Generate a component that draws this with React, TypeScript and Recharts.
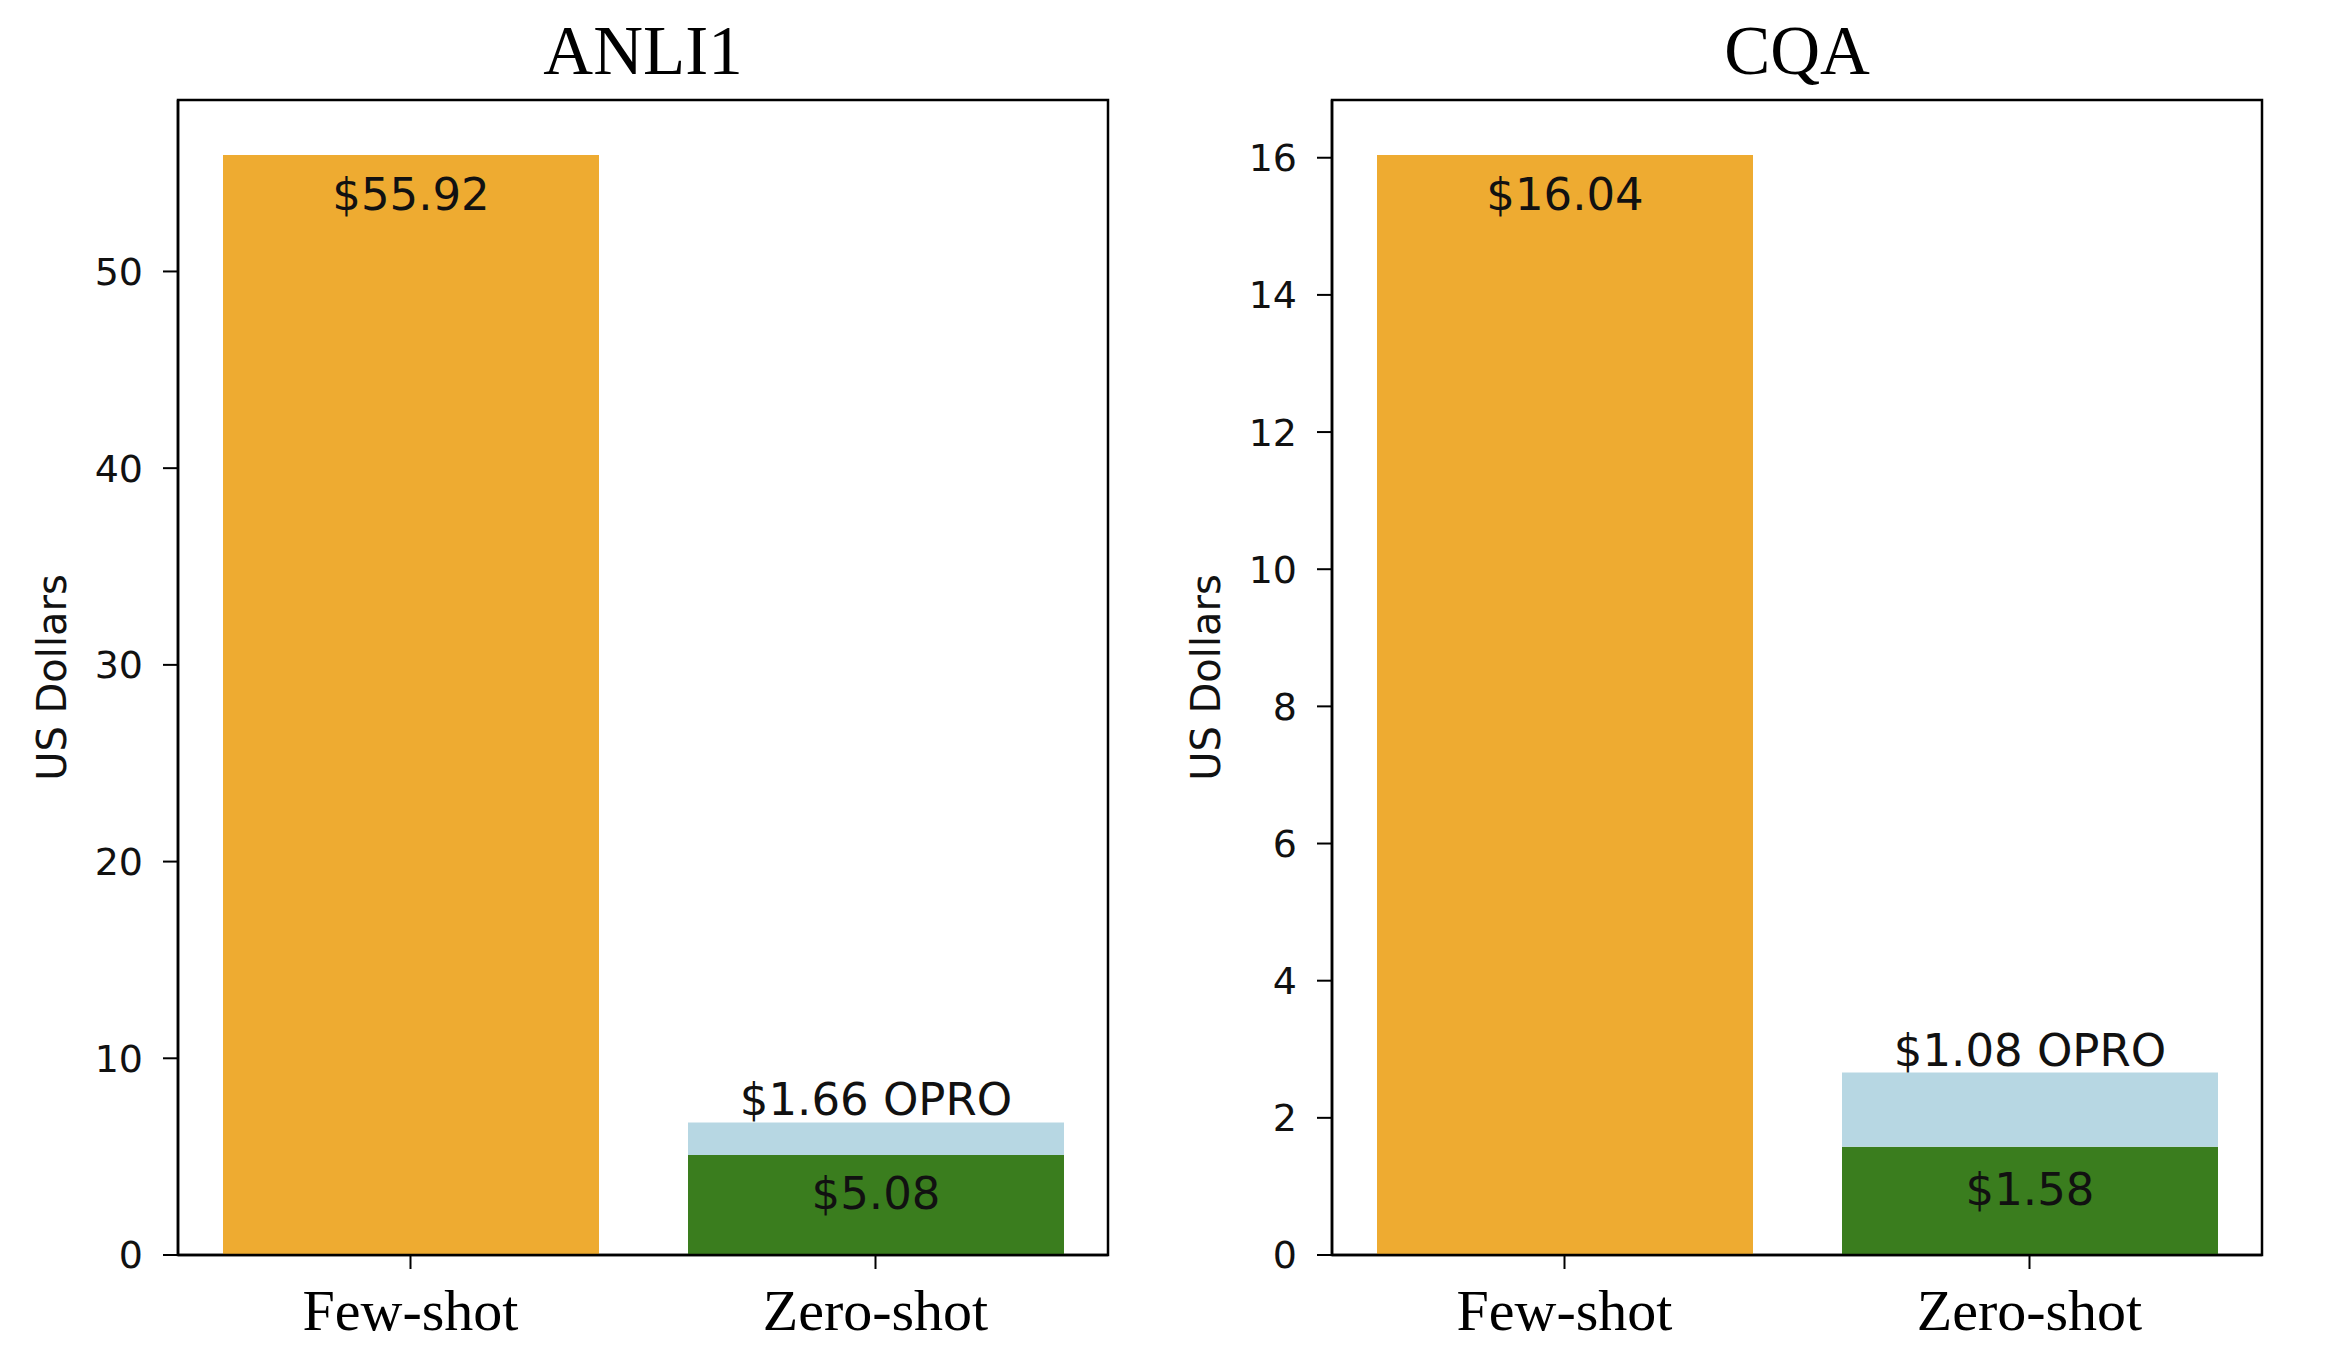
import React from "react";
import { BarChart, Bar, XAxis, YAxis, LabelList, ReferenceArea } from "recharts";

// dollar cost per dataset
const datasets = ["ANLI1", "CQA"];
const categories = ["Few-shot", "Zero-shot"];
const fewShotCost = [55.92, 16.04];
const zeroShotCost = [5.08, 1.58];
const oproCost = [1.66, 1.08];
const yTicks = [
  [0, 10, 20, 30, 40, 50],
  [0, 2, 4, 6, 8, 10, 12, 14, 16],
];

const ORANGE = "#eeab31";
const GREEN = "#3a7d1e";
const LIGHTBLUE = "#b7d7e3";
const SANS = "'DejaVu Sans', sans-serif";
const SERIF = "'Liberation Serif', 'Times New Roman', serif";
const frame = { stroke: "#000", strokeWidth: 2.5 };

function XTick({ x, y, payload }: any) {
  return (
    <text x={x} y={y + 59} textAnchor="middle" fontSize={58} fontFamily={SERIF} fill="#000">
      {payload.value}
    </text>
  );
}

function YTitle({ viewBox }: any) {
  const cx = viewBox.x + viewBox.width - 126;
  const cy = viewBox.y + viewBox.height / 2;
  return (
    <text
      x={cx}
      y={cy}
      transform={`rotate(-90 ${cx} ${cy})`}
      textAnchor="middle"
      dominantBaseline="central"
      fontSize={40}
      fontFamily={SANS}
      fill="#111"
    >
      US Dollars
    </text>
  );
}

function FewLabel({ x, y, width, value }: any) {
  if (!value) return null;
  return (
    <text x={x + width / 2} y={y + 55} textAnchor="middle" fontSize={45} fontFamily={SANS} fill="#111">
      {"$" + value.toFixed(2)}
    </text>
  );
}

function ZeroLabel({ x, y, width, height, value }: any) {
  if (!value) return null;
  return (
    <text x={x + width / 2} y={y + height / 2 + 4} textAnchor="middle" fontSize={45} fontFamily={SANS} fill="#111">
      {"$" + value.toFixed(2)}
    </text>
  );
}

function OproLabel({ x, y, width, value }: any) {
  if (!value) return null;
  return (
    <text x={x + width / 2} y={y - 7} textAnchor="middle" fontSize={45} fontFamily={SANS} fill="#111">
      {"$" + value.toFixed(2) + " OPRO"}
    </text>
  );
}

function Panel({ i, left, axisWidth }: { i: number; left: number; axisWidth: number }) {
  const rows = [
    { name: categories[0], few: fewShotCost[i], zero: 0, opro: 0 },
    { name: categories[1], few: 0, zero: zeroShotCost[i], opro: oproCost[i] },
  ];
  // matplotlib's default 5% top margin
  const yMax = Math.max(fewShotCost[i], zeroShotCost[i] + oproCost[i]) * 1.05;
  const plotWidth = 930;

  return (
    <div style={{ position: "absolute", left, top: 0, width: 1169, height: 1368 }}>
      <div
        style={{
          position: "absolute",
          left: axisWidth,
          width: plotWidth,
          top: 17,
          textAlign: "center",
          fontFamily: SERIF,
          fontSize: 69,
          lineHeight: "69px",
          color: "#000",
        }}
      >
        {datasets[i]}
      </div>
      <BarChart
        width={1169}
        height={1368}
        data={rows}
        margin={{ top: 100, right: 1169 - axisWidth - plotWidth, bottom: 0, left: 0 }}
      >
        <XAxis
          dataKey="name"
          height={113}
          tickSize={14}
          tickLine={{ stroke: "#000", strokeWidth: 2 }}
          axisLine={frame}
          tick={<XTick />}
        />
        <YAxis
          type="number"
          domain={[0, yMax]}
          allowDataOverflow
          ticks={yTicks[i]}
          width={axisWidth}
          tickSize={15}
          tickMargin={20}
          tickLine={{ stroke: "#000", strokeWidth: 2 }}
          axisLine={frame}
          tick={{ fontSize: 38, fontFamily: SANS, fill: "#111" }}
          label={<YTitle />}
        />
        <Bar dataKey="few" stackId="s" fill={ORANGE} barSize={376} isAnimationActive={false}>
          <LabelList dataKey="few" content={<FewLabel />} />
        </Bar>
        <Bar dataKey="zero" stackId="s" fill={GREEN} barSize={376} isAnimationActive={false}>
          <LabelList dataKey="zero" content={<ZeroLabel />} />
        </Bar>
        <Bar dataKey="opro" stackId="s" fill={LIGHTBLUE} barSize={376} isAnimationActive={false}>
          <LabelList dataKey="opro" content={<OproLabel />} />
        </Bar>
        {/* axes box: top and right edges */}
        <ReferenceArea
          y1={0}
          y2={yMax}
          fill="none"
          fillOpacity={0}
          stroke="#000"
          strokeWidth={2.5}
          ifOverflow="visible"
        />
      </BarChart>
    </div>
  );
}

export default function App() {
  return (
    <div style={{ position: "absolute", left: 0, top: 0, width: 2338, height: 1368, background: "#fff" }}>
      <Panel i={0} left={0} axisWidth={178} />
      <Panel i={1} left={1169} axisWidth={163} />
    </div>
  );
}
